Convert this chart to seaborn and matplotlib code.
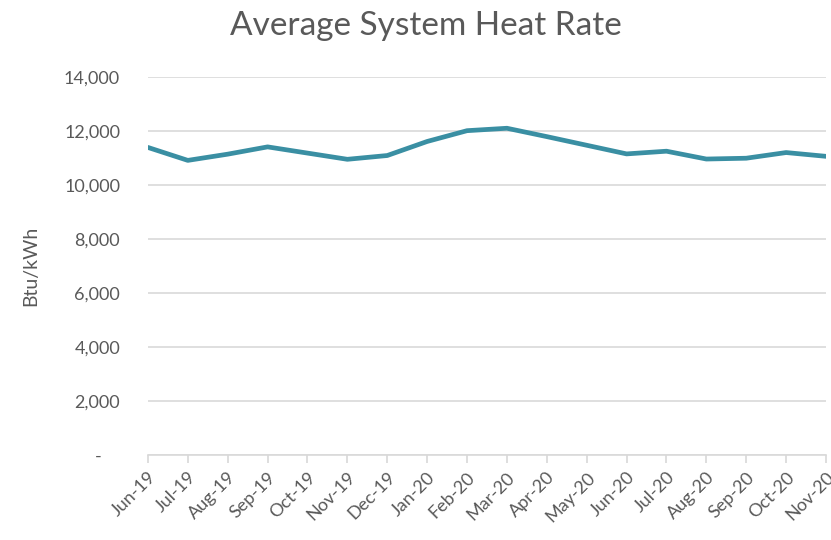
import matplotlib
matplotlib.use("Agg")
import matplotlib.pyplot as plt
import seaborn as sns
import pandas as pd

months = ["Jun-19", "Jul-19", "Aug-19", "Sep-19", "Oct-19", "Nov-19", "Dec-19",
          "Jan-20", "Feb-20", "Mar-20", "Apr-20", "May-20", "Jun-20", "Jul-20",
          "Aug-20", "Sep-20", "Oct-20", "Nov-20"]
heat_rate = [11400, 10920, 11150, 11420, 11190, 10960, 11100,
             11620, 12020, 12110, 11800, 11480, 11160, 11260,
             10970, 11000, 11210, 11070]
yticks = [0, 2000, 4000, 6000, 8000, 10000, 12000, 14000]
ytick_labels = ["-    ", "2,000", "4,000", "6,000", "8,000", "10,000", "12,000", "14,000"]

sns.set_theme(style="white")
plt.rcParams['font.family'] = ['Lato', 'DejaVu Sans']
grey = "#595959"

df = pd.DataFrame({"x": range(len(months)), "y": heat_rate})

fig = plt.figure(figsize=(8.31, 5.40), dpi=100)
ax = fig.add_axes([0.178, 0.157, 0.816, 0.70])
sns.lineplot(data=df, x="x", y="y", ax=ax, color="#3a8fa3", linewidth=3.4)

ax.set_xlim(0, len(months) - 1)
ax.set_ylim(0, 14000)
ax.set_yticks(yticks)
ax.set_yticklabels(ytick_labels, fontsize=13, color=grey)
ax.set_xticks(range(len(months)))
ax.set_xticklabels(months, rotation=45, ha="right", rotation_mode="anchor",
                   fontsize=13, color=grey)
ax.yaxis.grid(True, color="#d9d9d9", linewidth=1.2)
ax.xaxis.grid(False)
for s in ["top", "right", "left"]:
    ax.spines[s].set_visible(False)
ax.spines["bottom"].set_color("#d9d9d9")
ax.spines["bottom"].set_linewidth(1.2)
ax.tick_params(axis="x", which="both", bottom=True, length=6, color="#d9d9d9", pad=4)
ax.tick_params(axis="y", length=0, pad=20)
ax.set_xlabel("")
ax.set_ylabel("Btu/kWh", fontsize=14, color=grey, labelpad=18)
fig.suptitle("Average System Heat Rate", x=0.512, y=0.98, fontsize=24, color=grey)

fig.savefig("out.png", dpi=100)
